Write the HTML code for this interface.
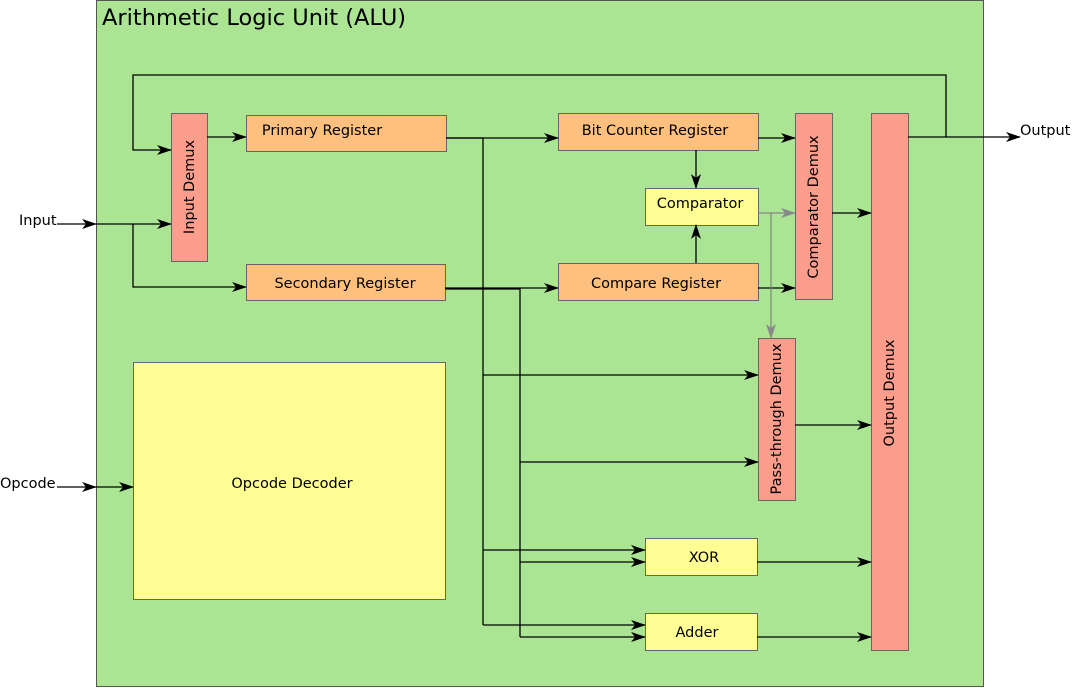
<!DOCTYPE html>
<html><head><meta charset="utf-8"><style>
html,body{margin:0;padding:0;background:#fff;}
svg{display:block;font-family:"DejaVu Sans","Liberation Sans",sans-serif;}
</style></head><body>
<svg width="1072" height="688" viewBox="0 0 1072 688" xmlns="http://www.w3.org/2000/svg">
<defs>
<marker id="a" markerWidth="15" markerHeight="10" refX="14" refY="5" orient="auto" markerUnits="userSpaceOnUse">
<path d="M0,0 L15,5 L0,10 L4,5 z" fill="#000"/></marker>
<marker id="g" markerWidth="15" markerHeight="10" refX="14" refY="5" orient="auto" markerUnits="userSpaceOnUse">
<path d="M0,0 L15,5 L0,10 L4,5 z" fill="#888"/></marker>
</defs>
<rect x="96.5" y="0.5" width="887" height="686" fill="#abe594" stroke="#555"/>
<text x="102" y="25" font-size="22.5" fill="#000">Arithmetic Logic Unit (ALU)</text>

<g stroke="#666" stroke-width="1">
<rect x="171.5" y="113.5" width="36" height="148" fill="#fd9d8c"/>
<rect x="246.5" y="115.5" width="200" height="36" fill="#fec07f"/>
<rect x="246.5" y="264.5" width="199" height="36" fill="#fec07f"/>
<rect x="133.5" y="362.5" width="312" height="237" fill="#fefe95"/>
<rect x="558.5" y="113.5" width="200" height="37" fill="#fec07f"/>
<rect x="645.5" y="188.5" width="113" height="37" fill="#fefe95"/>
<rect x="558.5" y="263.5" width="200" height="37" fill="#fec07f"/>
<rect x="795.5" y="113.5" width="37" height="186" fill="#fd9d8c"/>
<rect x="871.5" y="113.5" width="37" height="537" fill="#fd9d8c"/>
<rect x="758.5" y="338.5" width="37" height="162" fill="#fd9d8c"/>
<rect x="645.5" y="538.5" width="112" height="37" fill="#fefe95"/>
<rect x="645.5" y="613.5" width="112" height="37" fill="#fefe95"/>
</g>

<g font-size="14.5" fill="#000" text-anchor="middle">
<text x="322" y="135">Primary Register</text>
<text x="345" y="288">Secondary Register</text>
<text x="292" y="488">Opcode Decoder</text>
<text x="655" y="135">Bit Counter Register</text>
<text x="700" y="208">Comparator</text>
<text x="656" y="288">Compare Register</text>
<text x="704" y="562">XOR</text>
<text x="697" y="637">Adder</text>
<text transform="translate(194,187) rotate(-90)">Input Demux</text>
<text transform="translate(818,207) rotate(-90)">Comparator Demux</text>
<text transform="translate(781,419) rotate(-90)">Pass-through Demux</text>
<text transform="translate(894,393) rotate(-90)">Output Demux</text>
</g>
<g font-size="14.5" fill="#000">
<text x="19" y="225">Input</text>
<text x="0" y="488">Opcode</text>
<text x="1020" y="135">Output</text>
</g>

<g stroke="#000" stroke-width="1.3" fill="none">
<polyline points="908,137 946,137 946,75 133,75 133,150 171,150" marker-end="url(#a)"/>
<line x1="946" y1="137" x2="1020" y2="137" marker-end="url(#a)"/>
<line x1="57" y1="224" x2="96" y2="224" marker-end="url(#a)"/>
<line x1="96" y1="224" x2="171" y2="224" marker-end="url(#a)"/>
<polyline points="133,224 133,287 246,287" marker-end="url(#a)"/>
<line x1="207" y1="137" x2="246" y2="137" marker-end="url(#a)"/>
<line x1="57" y1="487" x2="96" y2="487" marker-end="url(#a)"/>
<line x1="96" y1="487" x2="133" y2="487" marker-end="url(#a)"/>
<line x1="446" y1="138" x2="558" y2="138" marker-end="url(#a)"/>
<polyline points="446,138 483,138 483,625"/>
<line x1="483" y1="375" x2="758" y2="375" marker-end="url(#a)"/>
<line x1="483" y1="550" x2="645" y2="550" marker-end="url(#a)"/>
<line x1="483" y1="625" x2="645" y2="625" marker-end="url(#a)"/>
<line x1="445" y1="288" x2="558" y2="288" marker-end="url(#a)"/>
<polyline points="445,289 520,289 520,637"/>
<line x1="520" y1="462" x2="758" y2="462" marker-end="url(#a)"/>
<line x1="520" y1="562" x2="645" y2="562" marker-end="url(#a)"/>
<line x1="520" y1="637" x2="645" y2="637" marker-end="url(#a)"/>
<line x1="696" y1="150" x2="696" y2="188" marker-end="url(#a)"/>
<line x1="696" y1="263" x2="696" y2="225" marker-end="url(#a)"/>
<line x1="758" y1="138" x2="795" y2="138" marker-end="url(#a)"/>
<line x1="758" y1="288" x2="795" y2="288" marker-end="url(#a)"/>
<line x1="832" y1="213" x2="871" y2="213" marker-end="url(#a)"/>
<line x1="795" y1="425" x2="871" y2="425" marker-end="url(#a)"/>
<line x1="757" y1="562" x2="871" y2="562" marker-end="url(#a)"/>
<line x1="757" y1="637" x2="871" y2="637" marker-end="url(#a)"/>
</g>
<g stroke="#888" stroke-width="1.3" fill="none">
<line x1="758" y1="213" x2="795" y2="213" marker-end="url(#g)"/>
<polyline points="771,213 771,338" marker-end="url(#g)"/>
</g>
</svg>
</body></html>
